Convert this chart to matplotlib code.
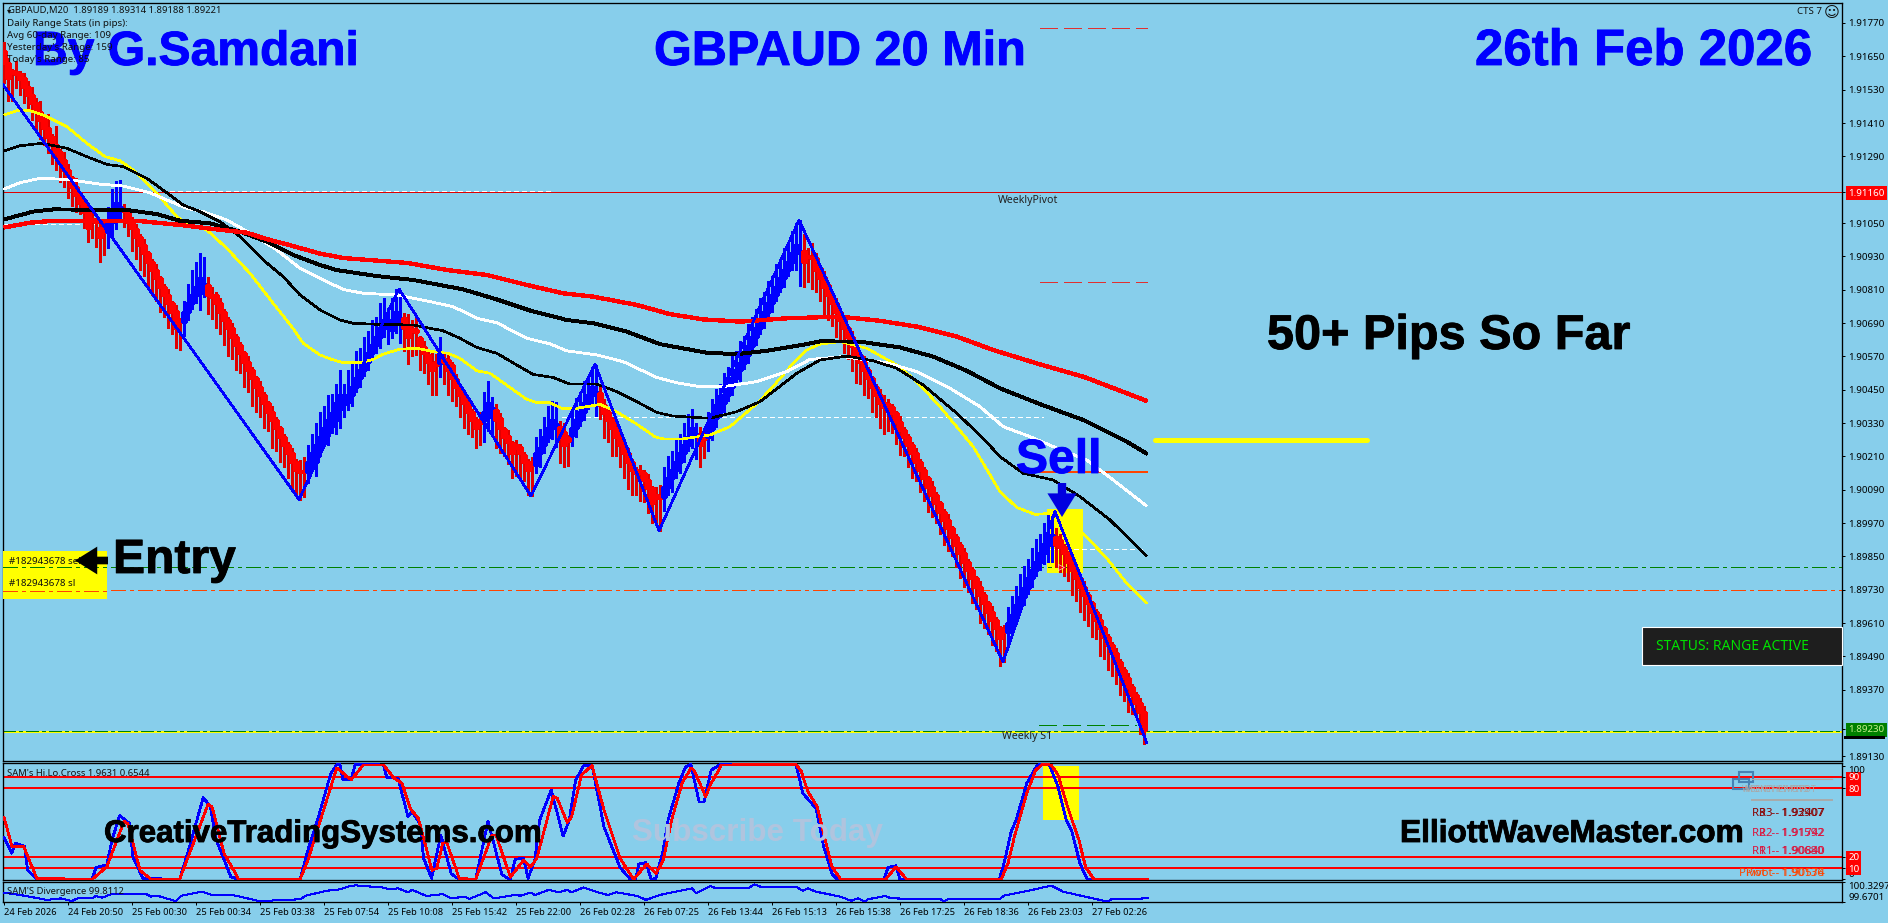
import matplotlib
matplotlib.use("Agg")
import matplotlib.pyplot as plt
import matplotlib.patheffects as pe
from matplotlib.patches import Rectangle
import numpy as np

W, H = 1888, 923
SKY = "#87CEEB"
BASE, PIP = 1.89, 1e-4

# ---------- candles, pips above 1.89000 ----------
bar_open = [
 267,262.5,259.6,259.2,258.6,257.1,254.1,251.1,248.1,245.1,
 242.4,239.1,236.1,233.1,230.7,227.7,224.1,221.1,218.1,215.1,
 212.1,209.1,206.3,205.8,203.1,202.2,201.9,205.5,206.7,210,
 210,208.5,206.1,202.8,200.1,197.1,194.1,191.1,188.1,185.1,
 182.1,179.1,176.1,173.4,169.8,169.5,173.1,176.1,179.1,179.7,
 182.5,182.7,179.1,179.1,176.1,173.1,170.1,167.1,164.1,161.1,
 158.1,155.1,152.1,149.1,146.1,143.1,140.1,137.1,134.1,131.1,
 128.1,125.1,122.1,119.1,115.8,115.8,115.5,119.1,119.1,125.1,
 128.1,131.1,133.5,134.1,138.3,140,140.7,143.1,146.1,149.1,
 152.1,155.1,158.1,161.1,164.1,167.1,167.5,166.5,169.5,169.8,
 170.7,168.3,167,166.4,163.5,160.5,157.5,154.5,155,154.5,
 156,155.7,153.9,148.7,146.1,143.1,140.1,137.1,134.1,134,
 134.1,135.3,137.4,137.7,134.7,130.7,128.4,125.7,125,124.5,
 121.5,119.1,118.8,117.9,122.1,125.1,128.1,131.1,131.5,131.7,
 129.9,127.7,128.7,131.1,134.1,137.1,140.1,143.1,143.5,143.7,
 139.5,137.1,134.1,131.1,128.1,125.1,122.1,119.1,116,115.8,
 115,112.5,109.5,107,106.8,106.5,110.1,113.1,116.1,119.1,
 122.1,125.1,128.1,128,128.7,128,128,131,134.7,137.1,
 140.1,143.1,146.1,149.1,152.1,154.5,157.5,160.8,164.1,167.1,
 170.1,173.1,176.1,179.1,182.1,185.1,188.1,191.1,194.1,194.5,
 195,193,192.9,192.3,188.7,185.7,182.7,179.1,176.1,173.1,
 170.1,167.1,164.1,160.8,157.5,155.1,152.1,149.1,146.1,143.1,
 140.1,139.8,138.9,136.5,133.5,130.5,128.1,125.1,122.1,119.1,
 116.1,113.1,110.1,107.1,104.1,101.1,98.1,95.1,92.1,89.1,
 86.1,83.1,80.1,77.1,74.1,71.1,68.1,65.1,62.1,59.1,
 58.4,57.9,60.3,63.9,67.5,70.5,73.5,77.1,80.1,83.1,
 86.1,89.1,92.1,92.1,90.9,88.5,86.1,83.1,80.1,77.1,
 74.1,71.1,68.1,65.1,62.1,59.1,56.1,53.1,50.1,47.1,
 44.1,41.1,38.1,35.1,32.1,29.1]
bar_close = [
 262.5,257.1,259,258.6,257,254.1,251.1,248.1,245.1,242.1,
 239.1,236.1,233.1,230.1,227.7,224.1,221.1,218.1,215.1,212.1,
 209.1,203.1,205.7,205.2,200.1,201.6,204.9,209.1,212.1,210.6,
 209.5,205.5,203.1,200.1,197.1,194.1,191.1,188.1,185.1,182.1,
 179.1,176.1,173.1,167.1,169.2,173.1,176.1,179.1,182.1,185.1,
 182.9,179.1,178.5,176.1,173.1,170.1,167.1,164.1,161.1,158.1,
 155.1,152.1,149.1,146.1,143.1,140.1,137.1,134.1,131.1,128.1,
 125.1,122.1,119.1,116.1,115.2,115.2,119.1,122.1,125.1,128.1,
 131.1,134.1,136.5,140.1,143.1,141,143.1,146.1,149.1,152.1,
 155.1,158.1,161.1,164.1,167.1,170.1,168.5,170.1,173.1,170.8,
 167.1,164.1,166,165.6,161.1,158.1,155.1,152.1,154,158.1,
 155,152.1,149.1,146.1,143.1,140.1,137.1,134.1,131.1,133,
 137.1,140.1,138.4,134.1,131.1,128.1,126.3,122.1,124,122.1,
 119.1,116.1,117.8,122.1,123.9,128.1,131.1,134.1,132.5,127.5,
 125.1,126.7,131.1,134.1,137.1,140.1,143.1,146.1,144,139.5,
 136.5,134.1,131.1,128.1,125.1,122.1,119.1,116.1,115,115,
 112.5,109.5,104.1,106,106,110.1,113.1,116.1,119.1,122.1,
 125.1,128.1,131.1,129,125.1,127.4,131,134.7,137.1,140.1,
 143.1,146.1,149.1,152.1,154.5,157.5,160.8,164.1,167.1,170.1,
 173.1,176.1,179.1,182.1,185.1,188.1,191.1,194.1,197.1,195,
 191.1,192.6,192.4,188.1,185.1,182.1,179.1,176.1,173.1,170.1,
 167.1,164.1,160.8,157.5,155.1,152.1,149.1,146.1,143.1,140.1,
 138.9,139,136.5,133.5,130.5,128.1,125.1,122.1,119.1,116.1,
 113.1,110.1,107.1,104.1,101.1,98.1,95.1,92.1,89.1,86.1,
 83.1,80.1,77.1,74.1,71.1,68.1,65.1,62.1,59.1,55.5,
 57.8,60.9,63.9,67.5,70.5,73.5,77.1,80.1,83.1,86.1,
 89.1,92.1,92.6,89.1,88.5,86.1,83.1,80.1,77.1,74.1,
 71.1,68.1,65.1,62.1,59.1,56.1,53.1,50.1,47.1,44.1,
 41.1,38.1,35.1,32.1,29.1,22.5]
wick_up = [
 3,2,1,4,1,2,2,3,2,4, 2,5,1,7,1,3,2,1,3,1, 2,2,4,1,2,3,6,8,8,10,
 2,1,1,2,1,2,1,1,2,1, 1,2,1,2,1,4,7,9,9,9, 10,3,3,1,2,1,1,2,1,1,
 1,2,1,1,2,1,1,2,1,1, 1,1,2,1,4,5,6,7,8,9, 8,9,7,7,9,6,9,8,10,8,
 9,8,9,7,9,8,6,8,8,10, 2,4,3,5,1,2,1,4,3,6, 2,3,1,2,1,1,2,1,1,3,
 7,8,4,2,2,1,2,1,2,1, 1,1,2,6,7,7,8,7,8,2, 3,1,7,8,7,8,7,7,10,3,
 2,1,1,2,1,1,2,1,1,2, 1,2,1,3,4,7,8,7,8,7, 8,8,7,4,3,3,6,7,8,7,
 8,7,8,7,8,7,8,7,7,8, 7,8,7,8,7,8,7,8,8,11, 6,3,5,2,1,2,1,1,2,1,
 1,1,2,1,1,2,1,1,1,2, 3,2,1,1,2,1,1,1,2,1, 1,1,2,1,1,1,2,1,1,1,
 2,1,1,1,2,1,1,2,1,1, 2,6,7,7,8,8,7,8,8,7, 8,8,8,3,2,1,1,2,1,1,
 2,1,1,1,2,1,1,1,2,1, 1,2,1,1,2,2]
wick_down = [
 7,8,10,5,6,6,5,6,7,7, 6,6,7,6,8,6,7,7,6,4, 6,5,6,9,9,8,6,5,4,4,
 6,5,8,8,9,8,10,9,8,9, 8,9,8,7,10,5,3,2,3,6, 4,7,8,9,8,9,10,8,9,7,
 9,8,10,9,8,9,7,10,8,9, 8,9,10,9,10,9,4,3,5,4, 3,6,4,5,7,5,3,4,2,3,
 2,3,2,3,4,3,6,3,4,8, 8,10,9,8,9,7,8,9,11,5, 8,9,8,7,8,9,8,6,7,8,
 8,5,8,10,9,7,8,9,10,9, 7,9,11,3,5,3,2,4,7,9, 8,9,4,3,2,3,2,3,8,5,
 9,8,10,7,8,9,10,9,8,10, 8,9,7,9,12,5,3,5,3,4, 3,2,4,8,8,7,5,4,3,2,
 3,2,3,2,4,2,3,2,3,2, 3,2,3,2,2,3,2,3,6,12, 9,9,11,8,8,10,9,8,9,8,
 9,8,9,10,8,9,7,9,8,9, 10,9,7,8,9,7,8,9,7,8, 8,9,8,7,8,9,8,7,8,9,
 9,8,9,8,10,9,8,9,8,10, 11,5,3,3,2,3,2,3,2,3, 4,6,9,8,9,8,7,9,8,9,
 9,8,9,7,10,8,9,8,8,9, 8,9,7,5,8,5]

# ---------- zigzag ----------
zigzag_bar = [-0.2,73.75,98.75,131.75,147.75,163.75,198.75,249.75,262.75,285.7]
zigzag_pips = [254.7,105.5,181.3,106.7,154.2,94.2,206.1,47,101.1,17.9]

# ---------- moving averages ----------
yellow_bar = [0,3.2,6.5,9.8,15.7,20.7,25.3,29,32.3,38.2,43.2,46,50.7,55.7,61.5,67.3,72.3,74.8,79,81.9,84.8,89,92.3,94.8,99,103.2,107.3,111,114,118.2,121.5,126.5,130.7,133.2,136.5,139.4,143.2,149,153.2,158.2,162.8,164.8,169.8,176.5,181.5,188.2,191.5,197.3,200.7,204,209,215.7,223.2,228.2,234,242.3,249,253.2,257.8,261.5,269.8,275.7,280.7,285.7]
yellow_pips = [243.9,245.4,245.4,243.9,239.7,233.7,228.9,227.4,224.1,215.7,207.3,204.6,202.5,195.9,186.9,176.1,167,161.7,157.5,155.9,154.7,154.7,155.9,157.8,159.6,159.9,158.7,158.1,156.3,151.8,150.9,145.8,141.5,140.4,140.3,138.3,138.3,139.7,137,132.6,128,127.3,127.3,128.7,131.7,140,144.9,154.5,159.3,161.4,162.3,159.9,153.9,147.9,138.9,124.5,108.3,102.6,100.1,100.5,93.3,84.3,75.3,68.1]
black_thin_bar = [0,4,9.4,15.7,20.7,25.7,29.8,35.7,40.3,44.8,49,54,59,64.8,69.8,74,79,84,87.3,94,102.3,109.8,114,118.2,123.2,128.2,132.3,137.3,141.5,148.2,153.2,158.2,163.2,167.3,176.5,183.2,189,198.2,204,210.7,217.3,223.2,229.8,238.2,244.8,249,254.8,262.3,269,276.5,285.7]
black_thin_pips = [230.9,232.8,233.7,231.9,228.9,226.1,225.3,221.1,216.3,211.5,209.1,205.5,200.1,191.7,185.7,179.1,173.7,170.1,168.9,168.5,168.3,166.2,163.5,160.2,158.1,153.9,150.5,149.4,147,147,144.3,140.7,136.8,135.5,134.7,137.1,140.7,150.9,155.7,157.1,155.4,152.7,146.7,136.5,127.5,120.9,114.9,112.5,106.5,98.1,85.1]
black_thick_bar = [0,7.3,12.3,30.7,38.2,44,51.5,59,65.7,72.3,79,83,93.2,102.3,114.8,123.2,131.5,140.7,147.3,155.7,164,175.7,183.2,190.7,200.7,204,214,224,232.3,240.7,249,259,269.8,280.7,285.8]
black_thick_pips = [206.3,209.1,209.9,209.7,208.2,205.8,204.9,201.9,198.3,193.5,189.9,188.1,185.9,184.5,181.1,177.5,173.5,170.1,168.9,165.9,161.4,158.3,157.8,159,161.4,162.4,162.3,160.2,156.9,151.8,145.5,139.8,134.1,126.3,121.9]
white_bar = [0,4,9,15.7,24,29.8,36.5,40.7,45.7,49.8,55.7,62.3,68.2,74,79,84.8,89.8,98.2,106.5,112.3,118.2,123.2,130.7,136.5,140.7,148.2,154.8,163.2,168.2,174,179.8,188.2,195.7,201.5,209.8,220.7,228.2,236.5,244,249.8,256.5,262.3,270.7,277.3,285.7]
white_pips = [217.2,219.5,221.1,220.7,219,218.3,215.9,213.3,210.3,209.1,206.1,200.7,195.3,188.7,185.1,181.1,179.7,179.1,176.7,174.9,170.7,169.1,163.5,161.5,159,157.5,155.1,149.4,147.5,146.1,146.1,147.9,151.5,155.9,156.9,154.7,151.5,145.5,138.9,131.7,128.1,124.5,119.7,112.5,103.1]
red_ma_bar = [0,6.5,12.3,34,44,53.2,60.7,65.7,71.5,79,84.8,101,110.7,120.7,130.7,139.8,147.3,158.2,166.5,174.8,184,195.7,209,219,228.2,238.2,247.3,259,270,285.8]
red_ma_pips = [203.4,205.1,205.8,205.7,204.3,202.7,201.5,199.2,197,194,192.4,190.6,188.1,186.3,182.7,179.7,178.5,175.5,172.2,170.3,169.5,170.7,171.3,169.8,167.7,164.1,159.3,154.1,149.6,140.9]

# ---------- horizontal price levels ----------
level_pivot = 1.91160
level_entry = 1.89812
level_stop = 1.89729
level_s1_yellow = 1.89218
level_s1_green = 1.89223

# ---------- price axis ----------
price_ticks = [1.91770,1.91650,1.91530,1.91410,1.91290,1.91160,1.91050,1.90930,1.90810,1.90690,1.90570,1.90450,1.90330,1.90210,1.90090,1.89970,1.89850,1.89730,1.89610,1.89490,1.89370,1.89230,1.89130]
time_labels = ["24 Feb 2026","24 Feb 20:50","25 Feb 00:30","25 Feb 00:34","25 Feb 03:38","25 Feb 07:54","25 Feb 10:08","25 Feb 15:42","25 Feb 22:00","26 Feb 02:28","26 Feb 07:25","26 Feb 13:44","26 Feb 15:13","26 Feb 15:38","26 Feb 17:25","26 Feb 18:36","26 Feb 23:03","27 Feb 02:26"]

# ---------- Hi.Lo.Cross ----------
cross_blue_bar = [0,1.9,2.9,5.1,5.9,8.2,22,23,25.7,27,28.9,31.4,32.2,34.7,43.9,45.9,49.8,51.6,53,56.7,58.7,74,76,78.6,81.7,83.2,84,84.7,86.8,87.8,94.9,95.7,98.5,101,102,104,104.9,106.9,109.2,111.8,113.8,117.9,121,124.5,126.6,127.8,129.9,131,132.7,133.9,136.8,139.8,141.3,142.9,144.9,147,150,154,156.6,157.9,158.7,160.5,161.8,163,164.8,166,168.7,170.4,171.7,173.8,175,176.8,179,198,199.7,203,204.9,207,208.3,220,221,223,224,248.8,250,251.8,253,255.7,258.3,261.3,263.5,265.6,267,269,270.8,285.9]
cross_blue = [37,23,32,29,8,0,0,10.6,12.7,34.7,56,49.3,20,1,0,23,71.9,64,35,2.4,0,0,26,55,93,101,101,88,88,101,100.6,89.5,89,55,59.6,49,18.6,1,39,5,0,0,51,4,0,17.7,18.6,1,17,52,78.6,38,52,87,100,100.6,46,10.6,0,0,13.6,14.7,0,1,25.9,52,84.5,99,101,68,68,96,101,101,75.7,62.5,29,5,0,0,10.6,12,0,0,14,42,52,84.5,100.6,101,81.6,52,42,14,0,0]
cross_red_bar = [0,2,4.9,8.2,22,25.7,30,31,34,36.8,43.9,46.4,51,52,55,58.7,74,76,83.2,86.8,89.8,94.9,97.5,99.5,101.6,103.6,107,108.2,109.7,110.7,113.8,117.9,122,123,126.6,129.9,131.7,133.2,137.3,138.3,140.8,141.9,144.4,147,150,154,157.4,160.7,163,164.8,166.9,169.5,171.7,172.5,175.4,176.8,179.4,198,199.3,201,203.3,204.9,207,209.2,220.4,223,225.7,249.3,251,252.7,255.7,257.9,259.6,261.8,263.5,266,268.7,270.4,272.5,285.9]
cross_red = [54.6,29,29,1,0,11,51,49,8,0,0,23,66,64,23,0,0,17,98,87.5,100.6,100.6,89,84.5,62,53.7,8,9.8,32,32.3,1,0,39,39,2,17,11,18.6,72.8,71.3,50,55,92,100,61,18.6,0,13.6,5,17,52,84.5,97.7,96,72.8,84.5,100.6,101,95,77,64,40.5,11,0,0,11,0,0,14,39,75.7,96,101,100.6,92,62.5,35,11,0,0]
cross_levels = [90,80,20,10]

# ---------- Divergence ----------
div_bar = [0,5,10.7,14.3,16.9,18.4,22,23,24.5,26.6,35.7,36.8,38.3,42.9,44.4,49.5,52,57.2,63.8,74,75.5,80.6,84.2,85.7,87.8,95.4,95.9,98.5,101,102,105.6,109.7,111.8,115.3,116.3,120.4,122.5,127.6,129.1,131.7,132.7,136.2,138.8,140.8,141.9,144.9,148.5,151,153.1,158.3,160.5,163.9,167.8,172,173,176.6,178,186,187.6,189,198,199.7,201,203,209,211.8,213.5,215.2,216,220.4,221.7,234.2,235,235.9,248.8,250,255.7,261.8,264.8,269.5,276,276.8,285.9]
div_val = [99.98,99.88,99.74,99.79,99.70,99.79,99.79,99.87,99.81,99.92,99.92,99.85,99.88,99.70,99.88,100.01,99.90,99.90,99.70,99.76,99.88,100.04,100.09,100.17,100.22,100.14,100.09,100.12,99.99,100.07,99.87,99.93,99.79,99.85,99.77,99.99,99.79,99.90,99.88,99.98,99.90,100.07,99.99,100.07,99.99,100.15,99.99,99.90,99.99,99.87,99.74,99.90,100.01,100.12,99.96,100.20,100.12,100.12,100.25,100.18,100.18,100.04,100.12,100.01,99.85,99.71,99.79,99.68,99.76,99.87,99.79,99.76,99.68,99.76,99.76,99.88,100.03,100.21,100.01,99.87,99.68,99.76,99.79]

def pr(pips):
    return BASE + np.asarray(pips, float) * PIP

fig = plt.figure(figsize=(W / 100, H / 100), dpi=100, facecolor=SKY)

def axes_px(x0, y0, x1, y1, **kw):
    return fig.add_axes([x0 / W, 1 - y1 / H, (x1 - x0) / W, (y1 - y0) / H], **kw)

FRAME_L, FRAME_R = 3, 1842
xlim = ((FRAME_L - 4) / 4, (FRAME_R - 4) / 4)

TXT = dict(family="Noto Sans", fontsize=7.0, color="#101010")
AXFS = 7.0

def style(ax):
    ax.set_facecolor(SKY)
    ax.set_xlim(*xlim)
    for s in ax.spines.values():
        s.set_linewidth(0.95)
        s.set_color("black")
    ax.yaxis.tick_right()
    ax.tick_params(axis="y", length=2.4, width=0.72, pad=2, labelsize=AXFS)

# ========== main chart ==========
ax = axes_px(FRAME_L, 3, FRAME_R, 761)
style(ax)
px_per_unit = 27780.0
ax.set_ylim(1.9177 - (761 - 23) / px_per_unit, 1.9177 + 20 / px_per_unit)

def y_of(py):
    return 1.9177 - (py - 23) / px_per_unit

def i_of(px):
    return (px - 4) / 4

ax.add_patch(Rectangle((i_of(1047), y_of(573)), 9, y_of(509) - y_of(573), fc="yellow", ec="none", zorder=1))

def hl(y, x0, x1, col, lw=0.72, ls="-", z=2):
    ax.plot([i_of(x0), i_of(x1)], [y, y], color=col, lw=lw, ls=ls, zorder=z, antialiased=False)

DD = (0, (14, 5, 3, 5))
hl(level_pivot, 3, 1842, "#E00000")
hl(level_entry, 3, 1842, "#008000", ls=DD)
hl(level_stop, 3, 1842, "#FF4500", ls=DD)
hl(level_s1_yellow, 3, 1842, "yellow", lw=1.2)
hl(level_s1_green, 3, 1842, "#008000", ls=(0, (12, 3, 3, 3)))
WD = (0, (5, 3))
hl(y_of(190.5), 170, 551, "white", ls=WD)
hl(y_of(224), 3, 94, "white", ls=WD)
hl(y_of(416.5), 562, 1043, "white", ls=WD)
hl(y_of(549), 1050, 1143, "white", ls=WD)
LD = (0, (18, 6))
hl(y_of(28), 1040, 1147, "#E03030", ls=LD)
hl(y_of(282), 1040, 1147, "#E03030", ls=LD)
hl(y_of(725), 1039, 1136, "#008000", ls=LD)
hl(y_of(472), 1040, 1147, "#FF4500", lw=1.3)

# candles
o = pr(bar_open); c = pr(bar_close)
top = np.maximum(o, c); bot = np.minimum(o, c)
hi = top + np.asarray(wick_up, float) * PIP
lo = bot - np.asarray(wick_down, float) * PIP
x = np.arange(len(o))
cols = np.where(c > o, "#0000FF", "#FF0000")
ax.vlines(x, lo, hi, colors=[("#0000FF" if k == "#0000FF" else "#E00000") for k in cols], lw=0.75, zorder=3, antialiased=False)
ax.bar(x, top - bot, bottom=bot, width=0.9, color=cols, edgecolor=cols, lw=1.0, zorder=4, antialiased=False, snap=True)

# moving averages
def ma(bx, py, col, lw, z):
    ax.plot(bx, pr(py), color=col, lw=lw, zorder=z, solid_capstyle="butt", antialiased=False)

ma(yellow_bar, yellow_pips, "yellow", 1.15, 5)
ma(white_bar, white_pips, "white", 1.3, 5)
ma(black_thin_bar, black_thin_pips, "black", 1.15, 5)
ma(black_thick_bar, black_thick_pips, "black", 2.1, 5)
ma(red_ma_bar, red_ma_pips, "#FF0000", 2.4, 5)
ax.plot(zigzag_bar, pr(zigzag_pips), color="#0000FF", lw=1.2, zorder=6, antialiased=False)

ax.set_yticks(price_ticks)
ax.set_yticklabels([f"{v:.5f}" for v in price_ticks], family="Noto Sans")
ax.set_xticks([])
for t, v in zip(ax.get_yticklabels(), price_ticks):
    if abs(v - level_pivot) < 1e-7:
        t.set_color("white")
        t.set_bbox(dict(fc="#FF0000", ec="none", pad=1.8))
    if abs(v - 1.8923) < 1e-7:
        t.set_color("#C8F08C")
        t.set_bbox(dict(fc="#008000", ec="none", pad=1.8))

# ========== Hi.Lo.Cross ==========
a1 = axes_px(FRAME_L, 763, FRAME_R, 880)
style(a1)
a1.set_ylim(-0.5, 102.3)
a1.add_patch(Rectangle((i_of(1043), 52.5), 9, 47.5, fc="yellow", ec="none", zorder=1))
for lv in cross_levels:
    a1.plot([i_of(5), xlim[1]], [lv, lv], color="#FF0000", lw=1.1, zorder=2, antialiased=False)
a1.plot(cross_blue_bar, cross_blue, color="#0000FF", lw=1.25, zorder=3, antialiased=False)
a1.plot(cross_red_bar, cross_red, color="#FF0000", lw=1.25, zorder=4, antialiased=False)
a1.set_xticks([])
a1.set_yticks([0, 10, 20, 80, 90, 100])
a1.set_yticklabels(["0", "10", "20", "80", "90", "100"], family="Noto Sans")
for t, v in zip(a1.get_yticklabels(), [0, 10, 20, 80, 90, 100]):
    if v in cross_levels:
        t.set_color("white")
        t.set_bbox(dict(fc="#FF0000", ec="none", pad=1.4))
    elif v == 100:
        t.set_va("top")
    else:
        t.set_va("bottom")

# ========== Divergence ==========
a2 = axes_px(FRAME_L, 882, FRAME_R, 902)
style(a2)
a2.set_ylim(99.6701, 100.3297)
a2.plot(div_bar, div_val, color="#0000FF", lw=0.75, zorder=3, antialiased=False)
a2.set_yticks([99.6701, 100.3297])
a2.set_yticklabels(["99.6701", "100.3297"], family="Noto Sans")
a2.get_yticklabels()[0].set_va("bottom")
a2.get_yticklabels()[1].set_va("top")
a2.set_xticks(np.arange(len(time_labels)) * 16)
a2.set_xticklabels(time_labels, ha="left", family="Noto Sans", fontsize=6.7)
a2.tick_params(axis="x", length=2.4, width=0.72, pad=2)

# ========== overlay in screen pixels for texts ==========
ov = fig.add_axes([0, 0, 1, 1], zorder=20)
ov.set_xlim(0, W); ov.set_ylim(H, 0); ov.axis("off"); ov.patch.set_alpha(0)
BOLD = dict(family="Liberation Sans", weight="bold", va="baseline")
BLUE = "#0000FF"

def big(px, py, s, col, fs):
    t = ov.text(px, py, s, color=col, fontsize=fs, **BOLD)
    t.set_path_effects([pe.withStroke(linewidth=0.6, foreground=col)])

big(33, 65, "By G.Samdani", BLUE, 34.6)
big(654, 65, "GBPAUD 20 Min", BLUE, 35)
big(1475, 65, "26th Feb 2026", BLUE, 36.7)
big(1267, 349, "50+ Pips So Far", "black", 35)
big(1016, 473, "Sell", BLUE, 34.6)

ov.add_patch(Rectangle((3, 551), 104, 48, fc="yellow", ec="none"))
ov.plot([3, 107], [567, 567], color="#008000", lw=0.72, ls=DD, antialiased=False)
ov.plot([3, 107], [590.5, 590.5], color="#FF4500", lw=0.72, ls=DD, antialiased=False)
ov.text(9, 562, "#182943678 sell", va="center", **TXT)
ov.text(9, 584, "#182943678 sl", va="center", **TXT)
ov.annotate("", xy=(75, 560.5), xytext=(108, 560.5),
            arrowprops=dict(facecolor="black", edgecolor="none", width=5.5, headwidth=20, headlength=16, shrink=0))
big(113, 573, "Entry", "black", 34.6)

ov.annotate("", xy=(1062, 517), xytext=(1062, 483),
            arrowprops=dict(facecolor="#0000E0", edgecolor="none", width=6, headwidth=21, headlength=17, shrink=0))
ov.plot([1060.5], [567], marker=">", ms=5, mfc="#FF0000", mec="white", mew=0.4, ls="none")
ov.plot([1155, 1367], [440, 440], color="yellow", lw=3.6, solid_capstyle="round")

ov.text(8, 11, "GBPAUD,M20  1.89189 1.89314 1.89188 1.89221", va="center", family="Noto Sans", fontsize=6.8, color="#101010")
ov.text(9, 11, "\u25be", family="DejaVu Sans", fontsize=6, ha="center", va="center", color="#101010")
ov.text(7, 24, "Daily Range Stats (in pips):", va="center", **TXT)
ov.text(7, 36, "Avg 60-day Range: 109", va="center", **TXT)
ov.text(7, 48, "Yesterday's Range: 159", va="center", **TXT)
ov.text(7, 60, "Today's Range: 85", va="center", **TXT)
ov.text(1797, 12, "CTS 7", va="center", **TXT)
ov.text(1832, 12, "\u263a", family="DejaVu Sans", fontsize=11, ha="center", va="center", color="#101010")

ov.text(998, 200, "WeeklyPivot", va="center", family="Noto Sans", fontsize=7.6, color="#202020")
ov.text(1002, 737, "Weekly S1", va="center", family="Noto Sans", fontsize=7.6, color="#202020")

ov.add_patch(Rectangle((1642, 627), 200, 38, fc="#1E1E1E", ec="white", lw=0.8))
ov.text(1656, 647, "STATUS: RANGE ACTIVE", family="Noto Sans", weight="bold", fontsize=10, color="#00E000", va="center")

big(104, 842, "CreativeTradingSystems.com", "black", 22.5)
big(1400, 842, "ElliottWaveMaster.com", "black", 22.8)
ov.text(632, 841, "Subscribe Today", color="#B0C4DE", fontsize=22.6, **BOLD)

ov.text(7, 773, "SAM's Hi.Lo.Cross 1.9631 0.6544", va="center", family="Noto Sans", fontsize=6.8, color="#101010")
ov.text(7, 892, "SAM'S Divergence 99.8112", va="center", family="Noto Sans", fontsize=6.8, color="#101010")

# pivot table
ov.add_patch(Rectangle((1739, 772), 14, 10, fc="none", ec="#4682B4", lw=1.5))
ov.add_patch(Rectangle((1733, 779), 16, 10, fc="none", ec="#4682B4", lw=1.5))
ov.plot([1752, 1832], [779, 779], color="#A9A9A9", lw=0.8)
ov.plot([1752, 1832], [800, 800], color="#A9A9A9", lw=1.4)
ov.text(1742, 789, "WEEKLY PIVOTS", family="Noto Sans", fontsize=6.4, color="#A9A9A9", va="center")
ov.text(1745, 789, "MONTHLY PIVOT", family="Noto Sans", fontsize=6.4, color="#A9A9A9", va="center")
PT = dict(family="Noto Sans", fontsize=8.2, va="center", ha="right")
pivot_rows = [("R3", "#8B0000", 813, "1.92407", "1.93907"),
              ("R2", "#DC143C", 833, "1.91742", "1.91592"),
              ("R1", "#DC143C", 852, "1.90840", "1.90680"),
              ("Pivot", "#FF4500", 873, "1.90574", "1.90136")]
for name, col, yy, a, b in pivot_rows:
    ov.text(1825, yy, f"{name} - {a}", color=col, **PT)
    ov.text(1824, yy, f"{name}  -  {b}", color=col, **PT)
ov.add_patch(Rectangle((1844, 736), 41, 2.5, fc="black", ec="none"))

fig.savefig("out.png", dpi=100, facecolor=SKY)
